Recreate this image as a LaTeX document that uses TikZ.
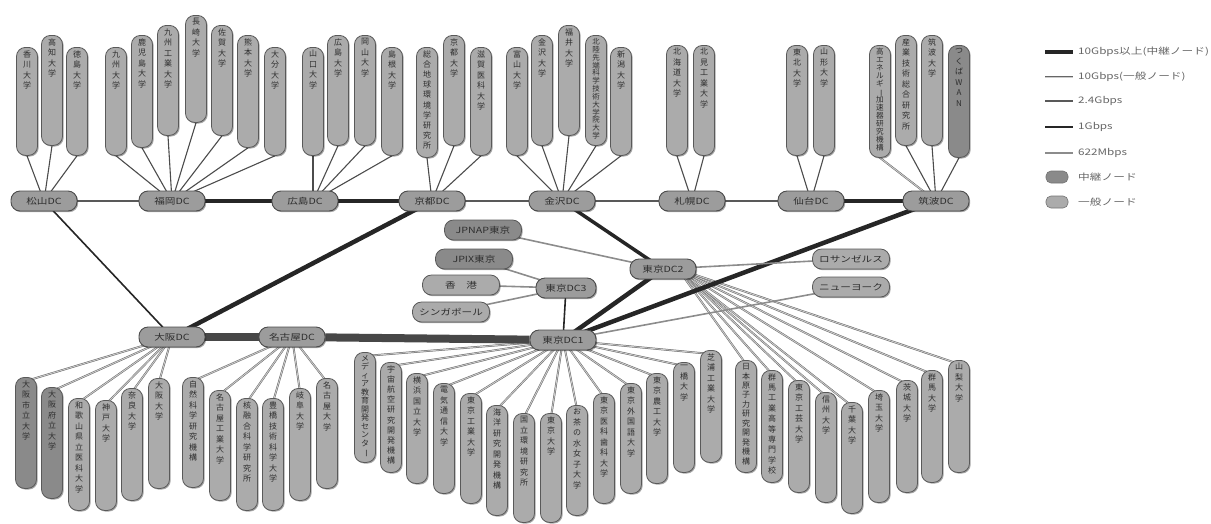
\documentclass[tikz,border=0pt]{standalone}
\usepackage{fontspec}
\setmainfont{Noto Sans CJK JP}
\usetikzlibrary{shadows,backgrounds}
\definecolor{leafc}{HTML}{ABABAB}
\definecolor{relayc}{HTML}{8A8A8A}
\definecolor{hubc}{HTML}{9C9C9C}
\definecolor{txtc}{HTML}{2E2E2E}
\newcommand\wide[1]{\scalebox{1.25}[1]{#1}}
\newcommand\lwide[1]{\scalebox{1.3}[1]{#1}}
\ExplSyntaxOn
\dim_new:N \l_vt_dim
\dim_new:N \l_vt_fdim
\NewDocumentCommand\vt{mm}{
  \dim_set:Nn \l_vt_dim { \dim_min:nn {10.5pt} { (#2 - 2pt) / \tl_count:n {#1} } }
  \dim_set:Nn \l_vt_fdim { \dim_min:nn {8pt} { 0.95\l_vt_dim } }
  \vbox_to_ht:nn {#2} {
    \fontsize{\dim_to_decimal:n{\l_vt_fdim}}{\dim_to_decimal:n{\l_vt_dim}}\selectfont
    \baselineskip=\l_vt_dim
    \lineskiplimit=-100pt
    \lineskip=0pt
    \tl_map_inline:nn {#1} {
      \hbox_to_wd:nn {12pt} { \hss \str_if_eq:nnTF {##1} {ー} { \rotatebox[origin=c]{-90}{ー} } {##1} \hss }
    }
    \vfil
  }
}
\ExplSyntaxOff
\tikzset{
  shad/.style={drop shadow={shadow xshift=1.2pt,shadow yshift=-1.2pt,opacity=0.35,fill=black}},
  hub/.style={draw=black!70, line width=0.9pt, fill=hubc, rounded corners=9pt, minimum width=66pt, minimum height=20pt, inner sep=1pt, font=\fontsize{8.5}{9}\selectfont, text=txtc, shad},
  ext/.style={draw=black!65, line width=0.8pt, fill=leafc, rounded corners=9pt, minimum width=77pt, minimum height=20pt, inner sep=1pt, font=\fontsize{8.5}{9}\selectfont, text=txtc, shad},
  leafbox/.style={draw=black!65, line width=0.8pt, rounded corners=9pt, minimum width=21pt, inner xsep=2pt, inner ysep=3pt, text=txtc, shad},
  lten/.style={line width=4.5pt, black!85},
  lbig/.style={line width=8pt, black!72},
  ltg/.style={draw=black!60, line width=0.5pt, double=gray!40, double distance=0.9pt},
  ltwo/.style={line width=2.8pt, black!65},
  lone/.style={line width=1.6pt, black!85},
  lsix/.style={line width=1.6pt, black!45},
  tline/.style={line width=1.1pt, black!70},
  legtext/.style={anchor=west, font=\fontsize{9}{10}\selectfont, text=black!60, inner sep=0pt},
  legbox/.style={draw=black!55, line width=0.6pt, rounded corners=5pt, minimum width=22pt, minimum height=12pt, inner sep=0pt},
}
\newcommand\leaf[6][leafc]{%
  \pgfmathsetmacro\lh{#5-#4-6}%
  \node[leafbox,fill=#1,anchor=north] (#2) at (#3,#4) {\vt{#6}{\lh pt}};%
}
\begin{document}
\begin{tikzpicture}[x=1pt,y=-1pt]
\useasboundingbox (0,0) rectangle (1211,523);
% hubs
\node[hub] (MA) at (44,201) {\wide{松山DC}};
\node[hub] (FK) at (172,201) {\wide{福岡DC}};
\node[hub] (HS) at (305,201) {\wide{広島DC}};
\node[hub] (KY) at (432,201) {\wide{京都DC}};
\node[hub] (KZ) at (562,201) {\wide{金沢DC}};
\node[hub] (SP) at (692,201) {\wide{札幌DC}};
\node[hub] (SD) at (811,201) {\wide{仙台DC}};
\node[hub] (TK) at (936,201) {\wide{筑波DC}};
\node[hub] (OS) at (172,337) {\wide{大阪DC}};
\node[hub] (NG) at (292,337) {\wide{名古屋DC}};
\node[hub] (T1) at (563,340) {\wide{東京DC1}};
\node[hub] (T2) at (663,269) {\wide{東京DC2}};
\node[hub,minimum width=60pt] (T3) at (566,288) {\wide{東京DC3}};
\node[ext,fill=relayc] (JN) at (483,230) {\wide{JPNAP東京}};
\node[ext,fill=relayc] (JX) at (474,259) {\wide{JPIX東京}};
\node[ext] (HK) at (461,285) {\wide{香\quad 港}};
\node[ext] (SG) at (451,312) {\wide{シンガポール}};
\node[ext] (LA) at (851,259) {\wide{ロサンゼルス}};
\node[ext] (NY) at (851,287) {\wide{ニューヨーク}};
% top leaves
\leaf{a1}{27}{47}{155}{香川大学}
\leaf{a2}{52}{35}{145}{高知大学}
\leaf{a3}{77}{47}{155}{徳島大学}
\leaf{b1}{116}{47}{155}{九州大学}
\leaf{b2}{142}{35}{147}{鹿児島大学}
\leaf{b3}{168}{25}{135}{九州工業大学}
\leaf{b4}{196}{15}{122}{長崎大学}
\leaf{b5}{222}{25}{135}{佐賀大学}
\leaf{b6}{248}{35}{147}{熊本大学}
\leaf{b7}{275}{47}{155}{大分大学}
\leaf{c1}{313}{47}{155}{山口大学}
\leaf{c2}{338}{35}{145}{広島大学}
\leaf{c3}{365}{35}{145}{岡山大学}
\leaf{c4}{392}{47}{155}{島根大学}
\leaf{d1}{427}{47}{157}{総合地球環境学研究所}
\leaf{d2}{454}{35}{145}{京都大学}
\leaf{d3}{481}{47}{155}{滋賀医科大学}
\leaf{e1}{517}{47}{155}{富山大学}
\leaf{e2}{542}{35}{145}{金沢大学}
\leaf{e3}{569}{25}{135}{福井大学}
\leaf{e4}{596}{35}{145}{北陸先端科学技術大学院大学}
\leaf{e5}{621}{47}{155}{新潟大学}
\leaf{f1}{677}{45}{155}{北海道大学}
\leaf{f2}{704}{45}{155}{北見工業大学}
\leaf{g1}{797}{45}{155}{東北大学}
\leaf{g2}{824}{45}{155}{山形大学}
\leaf{h1}{880}{45}{157}{高エネルギー加速器研究機構}
\leaf{h2}{906}{35}{145}{産業技術総合研究所}
\leaf{h3}{932}{35}{145}{筑波大学}
\leaf[relayc]{h4}{959}{45}{157}{つくばWAN}
% bottom leaves
\leaf[relayc]{i1}{26}{377}{488}{大阪市立大学}
\leaf[relayc]{i2}{52}{387}{498}{大阪府立大学}
\leaf{i3}{79}{398}{510}{和歌山県立医科大学}
\leaf{i4}{106}{400}{510}{神戸大学}
\leaf{i5}{132}{388}{500}{奈良大学}
\leaf{i6}{159}{378}{488}{大阪大学}
\leaf{j1}{193}{377}{487}{自然科学研究機構}
\leaf{j2}{220}{390}{500}{名古屋工業大学}
\leaf{j3}{247}{398}{510}{核融合科学研究所}
\leaf{j4}{273}{398}{510}{豊橋技術科学大学}
\leaf{j5}{300}{388}{500}{岐阜大学}
\leaf{j6}{327}{378}{488}{名古屋大学}
\leaf{k1}{365}{352}{462}{メディア教育開発センター}
\leaf{k2}{391}{362}{472}{宇宙航空研究開発機構}
\leaf{k3}{417}{373}{483}{横浜国立大学}
\leaf{k4}{444}{383}{493}{電気通信大学}
\leaf{k5}{471}{393}{503}{東京工業大学}
\leaf{k6}{497}{405}{515}{海洋研究開発機構}
\leaf{k7}{524}{413}{522}{国立環境研究所}
\leaf{k8}{551}{413}{522}{東京大学}
\leaf{k9}{577}{405}{515}{お茶の水女子大学}
\leaf{k10}{604}{393}{503}{東京医科歯科大学}
\leaf{k11}{631}{383}{493}{東京外国語大学}
\leaf{k12}{657}{373}{483}{東京農工大学}
\leaf{k13}{684}{362}{472}{一橋大学}
\leaf{k14}{711}{350}{462}{芝浦工業大学}
\leaf{m1}{746}{360}{472}{日本原子力研究開発機構}
\leaf{m2}{772}{370}{482}{群馬工業高等専門学校}
\leaf{m3}{799}{380}{492}{東京工芸大学}
\leaf{m4}{826}{392}{502}{信州大学}
\leaf{m5}{852}{402}{513}{千葉大学}
\leaf{m6}{879}{390}{502}{埼玉大学}
\leaf{m7}{907}{380}{492}{茨城大学}
\leaf{m8}{932}{370}{482}{群馬大学}
\leaf{m9}{959}{360}{472}{山梨大学}
% legend
\coordinate (g1a) at (1045,52); \coordinate (g1b) at (1073,52);
\coordinate (g2a) at (1045,77); \coordinate (g2b) at (1073,77);
\coordinate (g3a) at (1045,101); \coordinate (g3b) at (1073,101);
\coordinate (g4a) at (1045,127); \coordinate (g4b) at (1073,127);
\coordinate (g5a) at (1045,153); \coordinate (g5b) at (1073,153);
\node[legtext] (lt1) at (1078,52) {\lwide{10Gbps以上(中継ノード)}};
\node[legtext] (lt2) at (1078,77) {\lwide{10Gbps(一般ノード)}};
\node[legtext] (lt3) at (1078,101) {\lwide{2.4Gbps}};
\node[legtext] (lt4) at (1078,127) {\lwide{1Gbps}};
\node[legtext] (lt5) at (1078,153) {\lwide{622Mbps}};
\node[legbox,fill=relayc] (lb6) at (1057,177) {};
\node[legtext] (lt6) at (1078,177) {\lwide{中継ノード}};
\node[legbox,fill=leafc] (lb7) at (1057,202) {};
\node[legtext] (lt7) at (1078,202) {\lwide{一般ノード}};
\draw[lten] (g1a) -- (g1b);
\draw[ltg] (g2a) -- (g2b);
\draw[ltwo] (g3a) -- (g3b);
\draw[lone] (g4a) -- (g4b);
\draw[lsix] (g5a) -- (g5b);
% connectors
\begin{scope}[on background layer]
\foreach \l in {a1,a2,a3} \draw[tline] (\l.south) -- (MA.center);
\foreach \l in {b1,b2,b3,b4,b5,b6,b7} \draw[tline] (\l.south) -- (FK.center);
\foreach \l in {c1,c2,c3,c4} \draw[tline] (\l.south) -- ([xshift=8pt]HS.center);
\foreach \l in {d1,d2,d3} \draw[tline] (\l.south) -- (KY.center);
\foreach \l in {e1,e2,e3,e4,e5} \draw[tline] (\l.south) -- (KZ.center);
\foreach \l in {f1,f2} \draw[tline] (\l.south) -- (SP.center);
\foreach \l in {g1,g2} \draw[tline] (\l.south) -- (SD.center);
\draw[ltg] (h1.south) -- (TK.center);
\foreach \l in {h2,h3,h4} \draw[tline] (\l.south) -- (TK.center);
\foreach \l in {i1,i2,i3,i4,i5,i6} \draw[ltg] (OS.center) -- ([yshift=-4pt]\l.north);
\foreach \l in {j1,j2,j3,j4,j5,j6} \draw[ltg] (NG.center) -- ([yshift=-4pt]\l.north);
\foreach \l in {k1,k2,k3,k4,k5,k6,k7,k8,k9,k10,k11,k12,k13,k14} \draw[ltg] (T1.center) -- ([yshift=-4pt]\l.north);
\foreach \l in {m1,m2,m3,m4,m5,m6,m7,m8,m9} \draw[ltg] ([xshift=15pt]T2.center) -- ([yshift=-4pt]\l.north);
\draw[ltwo] (MA) -- (FK);
\draw[lten] (FK) -- (HS);
\draw[lten] (HS) -- (KY);
\draw[ltwo] (KY) -- (KZ);
\draw[ltwo] (KZ) -- (SP);
\draw[ltwo] (SP) -- (SD);
\draw[lten] (SD) -- (TK);
\draw[lone] (MA.center) -- (OS.center);
\draw[lten] (KY.center) -- (OS.center);
\draw[lten,line width=3.5pt] (KZ.center) -- (T2.center);
\draw[lten] (TK.center) -- (T1.center);
\draw[lten] (T2.center) -- (T1.center);
\draw[lbig] (OS) -- (NG);
\draw[lbig] (NG) -- (T1);
\draw[lone] (T3.center) -- (T1.center);
\draw[lsix] (JN.center) -- (T2.center);
\draw[lsix] (JX.center) -- (T3.center);
\draw[lsix] (HK.center) -- (T3.center);
\draw[lsix] (SG.center) -- (T3.center);
\draw[lsix] (LA.center) -- (T2.center);
\draw[lsix] (NY.center) -- (T1.center);
\end{scope}
\end{tikzpicture}
\end{document}
